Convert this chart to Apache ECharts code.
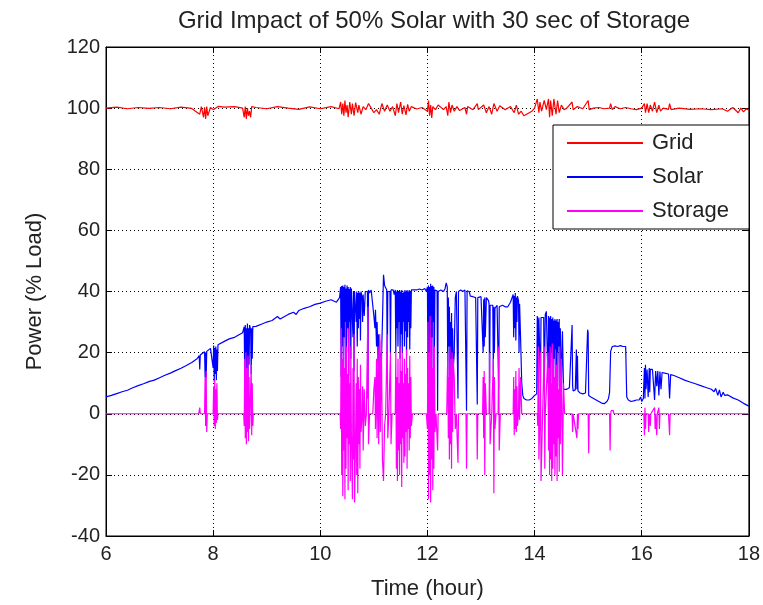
<!DOCTYPE html>
<html>
<head>
<meta charset="utf-8">
<script src="https://cdn.jsdelivr.net/npm/echarts@6/dist/echarts.min.js"></script>
<style>
  html, body { margin: 0; padding: 0; background: #fff; }
  #main { width: 763px; height: 605px; }
</style>
</head>
<body>
<div id="main"></div>
<script>
// values: [hour, % load]
var titleText = "Grid Impact of 50% Solar with 30 sec of Storage";
var xTicks = [6, 8, 10, 12, 14, 16, 18];
var yTicks = [-40, -20, 0, 20, 40, 60, 80, 100, 120];

var gridPts = [
  [6.0,100],[6.2,100.3],[6.4,99.8],[6.6,100.2],[6.8,99.9],[7.0,100.2],[7.2,99.8],[7.4,100.3],[7.6,99.9],
  [7.75,98],[7.78,100.5],[7.82,97],[7.84,100.3],[7.86,96.5],[7.88,100.5],[7.9,97.5],[7.95,100.2],[8.0,99.5],
  [8.1,100.6],[8.2,100.3],[8.4,100.5],[8.55,100],[8.58,97],[8.6,100.5],[8.62,96.5],[8.64,100],[8.66,97.5],
  [8.68,99],[8.7,97],[8.72,100.5],[8.8,100.2],[9.0,99.8],[9.2,100.5],[9.4,100],[9.6,99.6],[9.8,100.4],
  [10.0,99.8],[10.2,100.5],[10.35,99.8],[10.38,102],[10.4,98],[10.42,101.5],[10.44,97.5],[10.46,102.5],
  [10.48,98.5],[10.5,101],[10.52,97],[10.55,102],[10.58,98],[10.6,101.5],[10.63,97.5],[10.66,101.8],
  [10.7,98.5],[10.72,101],[10.76,98],[10.8,100.5],[10.85,99.5],[10.9,101.5],[10.95,100],[11.0,98.5],
  [11.05,99.5],[11.1,98],[11.15,101.5],[11.2,99],[11.25,101],[11.3,99],[11.35,100.5],[11.4,97.5],
  [11.43,101.5],[11.46,98.5],[11.5,102],[11.53,98],[11.56,100.8],[11.6,97.8],[11.63,101.2],[11.66,99],
  [11.7,100.5],[11.8,99.7],[11.9,100.2],[12.0,99],[12.02,102.5],[12.04,97.5],[12.06,101],[12.08,96.8],
  [12.1,100.5],[12.15,99.5],[12.2,101],[12.3,99.5],[12.35,100.5],[12.38,97.5],[12.4,102],[12.43,98.5],
  [12.46,101],[12.5,99],[12.55,100.5],[12.6,99.2],[12.7,100.2],[12.73,98],[12.75,100.5],[12.85,99.5],
  [12.93,101.5],[12.95,99.5],[13.05,101],[13.1,98.5],[13.15,100.5],[13.2,98],[13.24,101.5],[13.3,99],
  [13.35,100.8],[13.45,99.5],[13.55,100.5],[13.62,98.5],[13.66,101],[13.7,98],[13.75,99],[13.8,97.5],
  [13.85,98],[13.9,98.5],[13.95,99],[14.0,100],[14.05,103],[14.08,98.5],[14.1,102],[14.13,99],
  [14.18,102.5],[14.22,99.5],[14.26,103],[14.28,97],[14.3,102.5],[14.33,97.5],[14.36,103],[14.4,98],
  [14.43,102.5],[14.46,98.5],[14.5,101],[14.55,99.5],[14.6,100],[14.7,102],[14.72,99.5],[14.8,100.5],
  [14.9,99.8],[15.0,102.5],[15.02,99.5],[15.1,100],[15.2,100.2],[15.3,99.8],[15.4,100],[15.42,101.5],
  [15.45,99.5],[15.5,100.5],[15.6,99.8],[15.7,100.2],[15.8,99.8],[15.9,99.5],[16.0,100],[16.05,101.5],
  [16.07,98.5],[16.1,101.5],[16.13,98.5],[16.16,101],[16.2,99],[16.24,102],[16.28,98.5],[16.32,101],
  [16.35,99],[16.4,100],[16.5,99.6],[16.52,101.5],[16.55,99.5],[16.7,100],[16.9,99.6],[17.1,99.8],
  [17.3,99.5],[17.5,99.8],[17.6,99],[17.7,100.2],[17.8,98.5],[17.85,100],[17.9,98.8],[17.95,99.8],[18.0,99.3]
];

var solarPts = [
  [6.00,5.5],[6.10,6.0],[6.20,6.6],[6.30,7.2],[6.40,7.7],[6.50,8.5],[6.60,9.2],[6.70,9.8],[6.80,10.5],
  [6.90,11.0],[7.00,11.8],[7.10,12.6],[7.20,13.3],[7.30,14.1],[7.40,14.9],[7.50,15.8],[7.60,16.8],
  [7.70,18.0],[7.74,19.0],[7.75,14.5],[7.76,19.2],[7.80,19.8],[7.84,20.3],[7.85,12.0],[7.86,20.0],
  [7.87,11.5],[7.88,20.4],[7.90,21.0],[7.95,21.4],[7.98,22.0],[8.00,15.0],[8.01,22.3],[8.02,10.5],
  [8.03,21.5],[8.04,13.0],[8.05,22.0],[8.06,11.0],[8.07,21.0],[8.08,14.0],[8.09,22.6],[8.12,23.0],
  [8.20,23.6],[8.30,24.5],[8.40,25.0],[8.50,26.0],[8.55,26.5],[8.58,28.5],[8.59,12.0],[8.60,29.0],
  [8.61,10.0],[8.62,28.0],[8.63,14.0],[8.64,29.5],[8.65,11.5],[8.66,28.0],[8.67,16.0],[8.68,29.0],
  [8.70,27.5],[8.71,13.0],[8.72,28.0],[8.73,18.0],[8.74,28.5],[8.80,28.6],[8.90,29.3],[9.00,30.0],
  [9.10,30.5],[9.20,31.8],[9.25,31.0],[9.30,31.5],[9.40,32.5],[9.50,33.2],[9.55,32.5],[9.60,33.8],
  [9.70,34.5],[9.80,35.0],[9.90,35.8],[10.00,36.2],[10.10,36.8],[10.20,37.3],[10.30,36.5],[10.36,38.0],
  [10.38,41.5],[10.39,12.0],[10.40,41.8],[10.41,22.0],[10.42,42.0],[10.43,15.0],[10.44,41.5],[10.45,25.0],
  [10.46,42.2],[10.47,10.0],[10.48,41.0],[10.49,20.0],[10.50,42.0],[10.51,28.0],[10.52,41.5],[10.53,12.5],
  [10.54,40.8],[10.55,30.0],[10.56,41.5],[10.57,18.0],[10.58,41.0],[10.60,40.5],[10.61,25.0],[10.62,40.2],
  [10.63,14.0],[10.64,40.0],[10.66,39.8],[10.67,30.0],[10.68,40.0],[10.69,22.0],[10.70,39.5],[10.71,28.0],
  [10.72,40.0],[10.73,31.0],[10.74,39.5],[10.75,24.0],[10.76,40.0],[10.78,38.0],[10.79,30.0],[10.80,39.0],
  [10.82,32.0],[10.84,40.0],[10.86,40.5],[10.88,40.0],[10.89,5.0],[10.90,40.5],[10.92,39.5],[10.95,40.5],
  [10.98,40.0],[11.00,32.0],[11.02,28.0],[11.03,34.0],[11.05,22.0],[11.06,30.0],[11.08,16.0],[11.09,26.0],
  [11.11,13.0],[11.12,20.0],[11.14,17.0],[11.16,30.0],[11.18,45.5],[11.20,42.0],[11.22,41.5],[11.24,40.5],
  [11.25,14.0],[11.26,40.0],[11.28,40.5],[11.30,40.0],[11.31,20.0],[11.32,40.5],[11.34,40.0],[11.36,40.5],
  [11.38,39.0],[11.40,40.5],[11.41,20.0],[11.42,40.0],[11.43,28.0],[11.44,40.5],[11.45,22.0],[11.46,40.0],
  [11.47,30.0],[11.48,40.5],[11.49,18.0],[11.50,40.0],[11.51,26.0],[11.52,40.5],[11.53,20.0],[11.54,39.5],
  [11.55,30.0],[11.56,40.0],[11.57,22.0],[11.58,40.5],[11.59,27.0],[11.60,40.0],[11.61,19.0],[11.62,40.5],
  [11.63,25.0],[11.64,40.0],[11.65,30.0],[11.66,40.5],[11.67,21.0],[11.68,40.0],[11.69,28.0],[11.70,40.5],
  [11.72,40.0],[11.74,40.5],[11.76,40.0],[11.80,40.5],[11.85,40.8],[11.90,40.5],[11.95,41.0],[11.98,40.0],
  [12.00,41.5],[12.01,10.0],[12.02,42.0],[12.03,20.0],[12.04,41.5],[12.05,8.0],[12.06,42.5],[12.07,15.0],
  [12.08,41.8],[12.09,25.0],[12.10,42.0],[12.11,9.0],[12.12,41.5],[12.13,18.0],[12.14,40.5],[12.16,40.0],
  [12.18,40.2],[12.19,1.0],[12.20,40.0],[12.25,40.5],[12.30,40.0],[12.33,41.0],[12.35,42.8],[12.37,41.5],
  [12.38,12.0],[12.39,38.0],[12.40,22.0],[12.41,35.0],[12.42,10.0],[12.43,30.0],[12.44,18.0],[12.45,33.0],
  [12.46,9.5],[12.47,28.0],[12.48,14.0],[12.50,20.0],[12.52,38.0],[12.54,40.0],[12.56,40.5],[12.57,5.0],
  [12.58,40.0],[12.62,40.5],[12.66,40.0],[12.70,40.5],[12.72,40.0],[12.73,1.0],[12.74,40.2],[12.78,40.0],
  [12.80,38.5],[12.85,38.3],[12.90,38.0],[12.92,38.2],[12.93,3.0],[12.94,38.0],[13.00,38.3],[13.03,38.0],
  [13.04,20.0],[13.05,37.5],[13.06,22.0],[13.07,38.0],[13.08,25.0],[13.10,38.0],[13.12,38.2],[13.14,37.0],
  [13.15,36.0],[13.16,10.0],[13.17,35.5],[13.20,36.0],[13.22,35.5],[13.23,14.0],[13.24,35.0],[13.25,20.0],
  [13.26,34.5],[13.28,35.0],[13.30,35.5],[13.32,35.0],[13.33,8.0],[13.34,35.0],[13.40,35.5],[13.45,35.0],
  [13.48,34.5],[13.50,35.0],[13.55,36.5],[13.58,38.0],[13.60,39.0],[13.61,25.0],[13.62,38.5],[13.63,28.0],
  [13.64,39.5],[13.65,24.0],[13.66,38.0],[13.67,30.0],[13.68,38.5],[13.70,37.0],[13.71,20.0],[13.72,36.0],
  [13.74,24.0],[13.76,10.0],[13.78,6.0],[13.80,5.0],[13.85,4.5],[13.90,4.5],[13.95,5.0],[14.00,6.0],
  [14.04,6.5],[14.05,32.0],[14.06,30.0],[14.07,8.0],[14.08,31.5],[14.10,31.0],[14.11,10.0],[14.12,31.5],
  [14.15,31.0],[14.17,31.5],[14.18,9.0],[14.20,32.5],[14.22,33.5],[14.24,33.0],[14.25,10.0],[14.26,32.0],
  [14.27,15.0],[14.28,31.5],[14.29,8.0],[14.30,32.0],[14.31,20.0],[14.32,31.0],[14.33,7.0],[14.34,31.5],
  [14.35,12.0],[14.36,30.5],[14.37,18.0],[14.38,31.0],[14.39,8.5],[14.40,30.5],[14.41,14.0],[14.42,31.0],
  [14.43,9.0],[14.44,30.0],[14.45,22.0],[14.46,31.0],[14.47,7.5],[14.48,28.0],[14.50,9.0],[14.52,27.0],
  [14.54,8.0],[14.56,7.5],[14.60,8.0],[14.65,8.5],[14.68,8.0],[14.70,29.0],[14.71,9.0],[14.72,7.5],
  [14.76,7.8],[14.78,21.0],[14.79,8.0],[14.80,19.0],[14.81,7.5],[14.85,6.8],[14.90,6.5],[14.95,6.8],
  [14.98,7.0],[14.99,27.5],[15.00,26.5],[15.01,6.0],[15.05,5.5],[15.10,5.0],[15.20,4.0],[15.25,3.5],
  [15.30,3.3],[15.35,4.0],[15.38,5.0],[15.40,7.0],[15.42,20.5],[15.45,22.0],[15.50,22.2],[15.55,22.0],
  [15.60,22.3],[15.65,22.0],[15.70,22.0],[15.72,5.5],[15.75,4.5],[15.80,4.0],[15.85,4.2],[15.90,4.5],
  [15.95,4.5],[15.98,5.5],[16.00,4.0],[16.03,5.0],[16.05,15.0],[16.06,5.0],[16.07,16.0],[16.08,8.0],
  [16.10,14.5],[16.12,5.5],[16.14,15.0],[16.15,7.0],[16.16,14.5],[16.18,14.8],[16.20,14.5],[16.22,14.3],
  [16.24,4.5],[16.26,14.0],[16.28,9.0],[16.30,14.0],[16.32,6.0],[16.34,13.8],[16.36,8.0],[16.38,13.5],
  [16.40,13.6],[16.45,13.2],[16.50,13.0],[16.52,5.0],[16.54,12.8],[16.60,12.5],[16.70,11.8],[16.80,11.0],
  [16.90,10.4],[17.00,9.8],[17.10,9.2],[17.20,8.6],[17.30,8.0],[17.35,7.2],[17.38,8.3],[17.42,6.0],
  [17.45,7.8],[17.48,5.5],[17.52,7.0],[17.55,6.0],[17.60,6.2],[17.70,5.2],[17.80,4.5],[17.90,3.4],[18.00,2.5]
];

var storagePts = [
  [6.00,0],[7.73,0],[7.75,2],[7.76,0],[7.84,0],[7.85,12],[7.86,-4],[7.87,14],[7.88,-6],[7.89,0],
  [8.00,0],[8.01,9],[8.02,-4],[8.03,11],[8.04,-5],[8.05,8],[8.06,-3],[8.07,10],[8.08,-2],[8.09,0],
  [8.57,0],[8.58,-4],[8.59,18],[8.60,-8],[8.61,20],[8.62,-10],[8.63,15],[8.64,-6],[8.65,19],[8.66,-9],
  [8.67,12],[8.68,-5],[8.69,0],[8.71,16],[8.72,-7],[8.73,10],[8.74,-4],[8.75,0],[10.37,0],
  [10.38,-5],[10.39,28],[10.40,-20],[10.41,18],[10.42,-27],[10.43,25],[10.44,-12],[10.45,15],[10.46,-28],
  [10.47,30],[10.48,-18],[10.49,22],[10.50,-8],[10.51,13],[10.52,-25],[10.53,28],[10.54,-10],[10.55,10],
  [10.56,-22],[10.57,22],[10.58,-6],[10.60,-28],[10.61,15],[10.62,-15],[10.63,26],[10.64,-29],[10.66,-5],
  [10.67,10],[10.68,-20],[10.69,18],[10.70,-26],[10.71,12],[10.72,-10],[10.73,8],[10.74,-18],[10.75,16],
  [10.76,-6],[10.78,0],[10.79,9],[10.80,-12],[10.82,8],[10.84,-4],[10.86,0],[10.88,0],[10.89,35],
  [10.90,-10],[10.92,0],[10.98,0],[11.00,8],[11.02,12],[11.03,-5],[11.05,18],[11.06,-8],[11.08,22],
  [11.09,-10],[11.11,26],[11.12,-6],[11.14,24],[11.16,-15],[11.18,-22],[11.20,-4],[11.22,0],[11.24,0],
  [11.25,26],[11.26,-8],[11.28,0],[11.30,0],[11.31,20],[11.32,-10],[11.34,0],[11.40,0],[11.41,20],
  [11.42,-18],[11.43,12],[11.44,-22],[11.45,18],[11.46,-12],[11.47,10],[11.48,-20],[11.49,22],[11.50,-10],
  [11.51,14],[11.52,-24],[11.53,20],[11.54,-8],[11.55,10],[11.56,-16],[11.57,18],[11.58,-14],[11.59,13],
  [11.60,-6],[11.61,21],[11.62,-18],[11.63,15],[11.64,-5],[11.65,10],[11.66,-12],[11.67,19],[11.68,-8],
  [11.69,12],[11.70,-4],[11.72,0],[11.98,0],[12.00,-5],[12.01,30],[12.02,-28],[12.03,20],[12.04,-20],
  [12.05,32],[12.06,-29],[12.07,25],[12.08,-15],[12.09,15],[12.10,-25],[12.11,30],[12.12,-18],[12.13,22],
  [12.14,-6],[12.16,0],[12.18,0],[12.19,-12],[12.20,0],[12.36,0],[12.38,20],[12.39,-8],[12.40,12],
  [12.41,-15],[12.42,22],[12.43,-10],[12.44,15],[12.45,-18],[12.46,20],[12.47,-6],[12.48,18],[12.50,12],
  [12.52,-5],[12.54,0],[12.57,-16],[12.58,0],[12.72,0],[12.73,-18],[12.74,0],[12.92,0],[12.93,-15],
  [12.94,0],[13.03,0],[13.04,12],[13.05,-8],[13.06,14],[13.07,-20],[13.08,10],[13.10,0],[13.15,0],
  [13.16,20],[13.17,-10],[13.20,0],[13.22,0],[13.23,18],[13.24,-26],[13.25,12],[13.26,-5],[13.28,0],
  [13.32,0],[13.33,22],[13.34,-12],[13.36,0],[13.60,0],[13.61,12],[13.62,-7],[13.63,8],[13.64,-5],
  [13.65,14],[13.66,-6],[13.67,9],[13.68,-4],[13.70,0],[13.71,15],[13.72,-2],[13.74,12],[13.76,0],
  [14.05,0],[14.06,-4],[14.07,22],[14.08,-15],[14.10,0],[14.11,20],[14.12,-22],[14.15,0],[14.18,22],
  [14.19,-18],[14.20,0],[14.25,20],[14.26,-12],[14.27,15],[14.28,-20],[14.29,22],[14.30,-15],[14.31,10],
  [14.32,-22],[14.33,23],[14.34,-18],[14.35,18],[14.36,-10],[14.37,12],[14.38,-20],[14.39,21],[14.40,-14],
  [14.41,16],[14.42,-22],[14.43,20],[14.44,-8],[14.45,8],[14.46,-19],[14.47,22],[14.48,-10],[14.50,18],
  [14.52,-20],[14.54,10],[14.56,0],[14.70,0],[14.71,-6],[14.72,0],[14.79,-8],[14.80,0],[14.81,-5],
  [14.82,0],[15.00,0],[15.01,-13],[15.02,0],[15.40,0],[15.41,-12],[15.42,0],[15.43,1],[15.47,1],[15.48,0],
  [16.04,0],[16.05,-7],[16.06,2],[16.07,-5],[16.08,0],[16.12,0],[16.13,-6],[16.14,0],[16.16,-4],[16.17,0],
  [16.24,2],[16.25,-5],[16.26,0],[16.28,-7],[16.29,0],[16.32,2],[16.33,-5],[16.34,0],[16.50,0],[16.52,-7],
  [16.53,0],[18.00,0]
];

var FONT = "'Liberation Sans', Arial, Helvetica, sans-serif";
var TXT = "#222";

var chart = echarts.init(document.getElementById("main"));

var dotted = { show: true, lineStyle: { color: "#000", type: [1, 3], width: 1 } };
var frameLine = { show: true, onZero: false, lineStyle: { color: "#000" } };
var inTick = { show: true, inside: true, length: 6, lineStyle: { color: "#000" } };

chart.setOption({
  animation: false,
  backgroundColor: "#fff",
  title: {
    text: titleText,
    left: 429,
    top: 4,
    textAlign: "center",
    textStyle: { fontFamily: FONT, fontSize: 24, fontWeight: "normal", color: TXT }
  },
  grid: {
    left: 106, right: 11, top: 47, bottom: 65,
    show: true, borderColor: "#000", borderWidth: 1, backgroundColor: "#fff"
  },
  legend: {
    orient: "vertical",
    left: 553,
    top: 125,
    backgroundColor: "#fff",
    borderColor: "#000",
    borderWidth: 1,
    padding: [6, 20, 6, 14],
    icon: "rect",
    itemWidth: 76,
    itemHeight: 2,
    itemGap: 10,
    textStyle: { fontFamily: FONT, fontSize: 22, color: TXT, lineHeight: 24, padding: [0, 0, 0, 4] },
    data: ["Grid", "Solar", "Storage"]
  },
  xAxis: [{
    type: "value",
    min: 6, max: 18, interval: 2,
    name: "Time (hour)",
    nameLocation: "middle",
    nameGap: 42,
    nameTextStyle: { fontFamily: FONT, fontSize: 22, color: TXT },
    axisLine: frameLine,
    axisTick: inTick,
    axisLabel: {
      fontFamily: FONT, fontSize: 20, color: TXT, margin: 8,
      formatter: function (v) { return xTicks.indexOf(v) >= 0 ? String(v) : ""; }
    },
    splitLine: dotted
  }, {
    type: "value", position: "top",
    min: 6, max: 18, interval: 2,
    axisLine: frameLine,
    axisTick: inTick,
    axisLabel: { show: false },
    splitLine: { show: false }
  }],
  yAxis: [{
    type: "value",
    min: -40, max: 120, interval: 20,
    name: "Power (% Load)",
    nameLocation: "middle",
    nameGap: 60,
    nameTextStyle: { fontFamily: FONT, fontSize: 22, color: TXT },
    axisLine: frameLine,
    axisTick: inTick,
    axisLabel: {
      fontFamily: FONT, fontSize: 20, color: TXT, margin: 6,
      formatter: function (v) { return yTicks.indexOf(v) >= 0 ? String(v) : ""; }
    },
    splitLine: dotted
  }, {
    type: "value", position: "right",
    min: -40, max: 120, interval: 20,
    axisLine: frameLine,
    axisTick: inTick,
    axisLabel: { show: false },
    splitLine: { show: false }
  }],
  series: [{
    name: "Grid",
    type: "line",
    symbol: "none",
    lineStyle: { color: "#ff0000", width: 1.2 },
    itemStyle: { color: "#ff0000" },
    data: gridPts
  }, {
    name: "Solar",
    type: "line",
    symbol: "none",
    lineStyle: { color: "#0000ff", width: 1.2 },
    itemStyle: { color: "#0000ff" },
    data: solarPts
  }, {
    name: "Storage",
    type: "line",
    symbol: "none",
    lineStyle: { color: "#ff00ff", width: 1.2 },
    itemStyle: { color: "#ff00ff" },
    data: storagePts
  }]
});
</script>
</body>
</html>
